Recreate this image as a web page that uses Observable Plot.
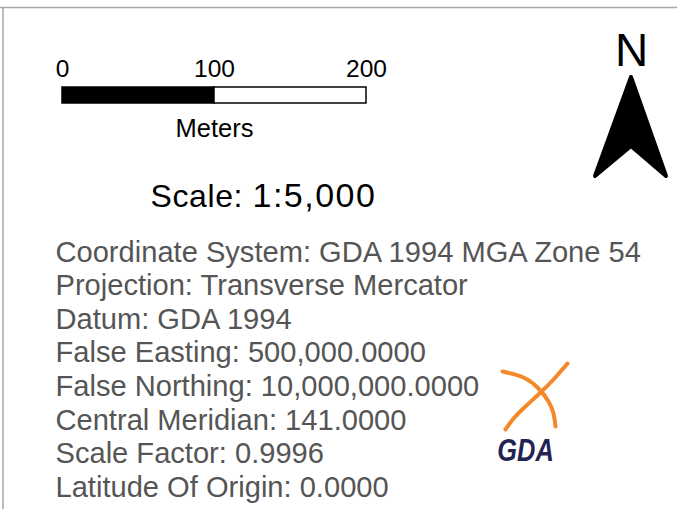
<!DOCTYPE html>
<html>
<head>
<meta charset="utf-8">
<script src="https://cdn.jsdelivr.net/npm/d3@7"></script>
<script src="https://cdn.jsdelivr.net/npm/@observablehq/plot@0.6"></script>
<style>
  html, body { margin: 0; padding: 0; background: #fff; }
  #chart svg { display: block; }
</style>
</head>
<body>
<div id="chart"></div>
<script>
// ---- data ----
const scaleTicks = [0, 100, 200];          // metres
const scaleSegments = [[0, 100], [100, 200]];
const scaleUnit = "Meters";
const ratioLabel = "Scale:";
const ratioValue = "1:5,000";
const northLabel = "N";
const infoLines = [
  "Coordinate System: GDA 1994 MGA Zone 54",
  "Projection: Transverse Mercator",
  "Datum: GDA 1994",
  "False Easting: 500,000.0000",
  "False Northing: 10,000,000.0000",
  "Central Meridian: 141.0000",
  "Scale Factor: 0.9996",
  "Latitude Of Origin: 0.0000"
];
const logoText = "GDA";
// north arrow outline (x, lower edge, upper edge)
const arrowShape = [
  {x: 595, lo: 176, hi: 176},
  {x: 631, lo: 146, hi: 77},
  {x: 666, lo: 176, hi: 176}
];
// logo swooshes
const logoArcs = [
  {k: "a", x: 502, y: 371}, {k: "a", x: 523, y: 377}, {k: "a", x: 538, y: 388}, {k: "a", x: 548, y: 401}, {k: "a", x: 553, y: 413}, {k: "a", x: 555, y: 426},
  {k: "b", x: 567, y: 363}, {k: "b", x: 553, y: 379}, {k: "b", x: 539, y: 393}, {k: "b", x: 526, y: 405}, {k: "b", x: 514, y: 417}, {k: "b", x: 505, y: 429}
];

// ---- layout ----
const W = 677, H = 509;
const font = "Liberation Sans, Arial, Helvetica, sans-serif";
const mx = d3.scaleLinear().domain([0, 200]).range([62, 366]); // metres -> page
const barTop = 87, barBottom = 103;
const lineY0 = 261, lineStep = 33.6;
const infoData = infoLines.map((t, i) => ({t, i}));

const chart = Plot.plot({
  width: W,
  height: H,
  margin: 0,
  x: {domain: [0, W], range: [0, W], axis: null},
  y: {domain: [0, H], range: [0, H], axis: null},
  style: {background: "#fff", fontFamily: font},
  marks: [
    // frame lines
    Plot.ruleY([7], {x1: 0, x2: W, stroke: "#a8a8a8", strokeWidth: 1.5}),
    Plot.ruleX([2.5], {y1: 7, y2: H, stroke: "#a8a8a8", strokeWidth: 1.5}),
    // scale bar
    Plot.rect(scaleSegments, {
      x1: d => mx(d[0]), x2: d => mx(d[1]),
      y1: () => barTop, y2: () => barBottom,
      fill: (d, i) => i % 2 === 0 ? "#000" : "#fff",
      stroke: "#000", strokeWidth: 1.5
    }),
    Plot.text(scaleTicks, {
      x: d => mx(d), y: () => 76, text: d => String(d),
      fontSize: 24.5, fill: "#000", textAnchor: "middle", lineAnchor: "bottom"
    }),
    Plot.text([scaleUnit], {
      x: () => mx(100), y: () => 136, text: d => d,
      fontSize: 25.5, fill: "#000", textAnchor: "middle", lineAnchor: "bottom"
    }),
    Plot.text([ratioLabel], {
      x: () => 150, y: () => 206, text: d => d,
      fontSize: 32, fill: "#000", textAnchor: "start", lineAnchor: "bottom"
    }),
    Plot.text([ratioValue], {
      x: () => 252, y: () => 206, text: d => d,
      fontSize: 34, fill: "#000", textAnchor: "start", lineAnchor: "bottom"
    }),
    // north arrow
    Plot.text([northLabel], {
      x: () => 631, y: () => 65, text: d => d,
      fontSize: 46, fill: "#000", textAnchor: "middle", lineAnchor: "bottom"
    }),
    Plot.areaY(arrowShape, {
      x: "x", y1: "lo", y2: "hi", curve: "linear",
      fill: "#000", stroke: "#000", strokeWidth: 4, strokeLinejoin: "round"
    }),
    // info text
    Plot.text(infoData, {
      x: () => 55, y: d => lineY0 + d.i * lineStep, text: "t",
      fontSize: 29.1, fill: "#555", textAnchor: "start", lineAnchor: "bottom"
    }),
    // GDA logo
    Plot.line(logoArcs, {
      x: "x", y: "y", z: "k", curve: "natural",
      stroke: "#f5892a", strokeWidth: 4, strokeLinecap: "round"
    }),
    Plot.text([logoText], {
      x: () => 525, y: () => 460, text: d => d,
      fontSize: 31, fontWeight: "bold", fontStyle: "italic",
      fill: "#1f2452", textAnchor: "middle", lineAnchor: "bottom"
    })
  ]
});

// typographic tweaks on the rendered text
const texts = d3.select(chart).selectAll("text");
texts.filter(function () { return this.textContent === ratioValue; }).style("letter-spacing", "1.5px");
texts.filter(function () { return this.textContent === ratioLabel; }).style("letter-spacing", "0.6px");
texts.filter(function () { return this.textContent === logoText; }).each(function () {
  const t = this.getAttribute("transform") || "";
  this.setAttribute("transform", t + " scale(0.82,1)");
});

document.getElementById("chart").appendChild(chart);
</script>
</body>
</html>
